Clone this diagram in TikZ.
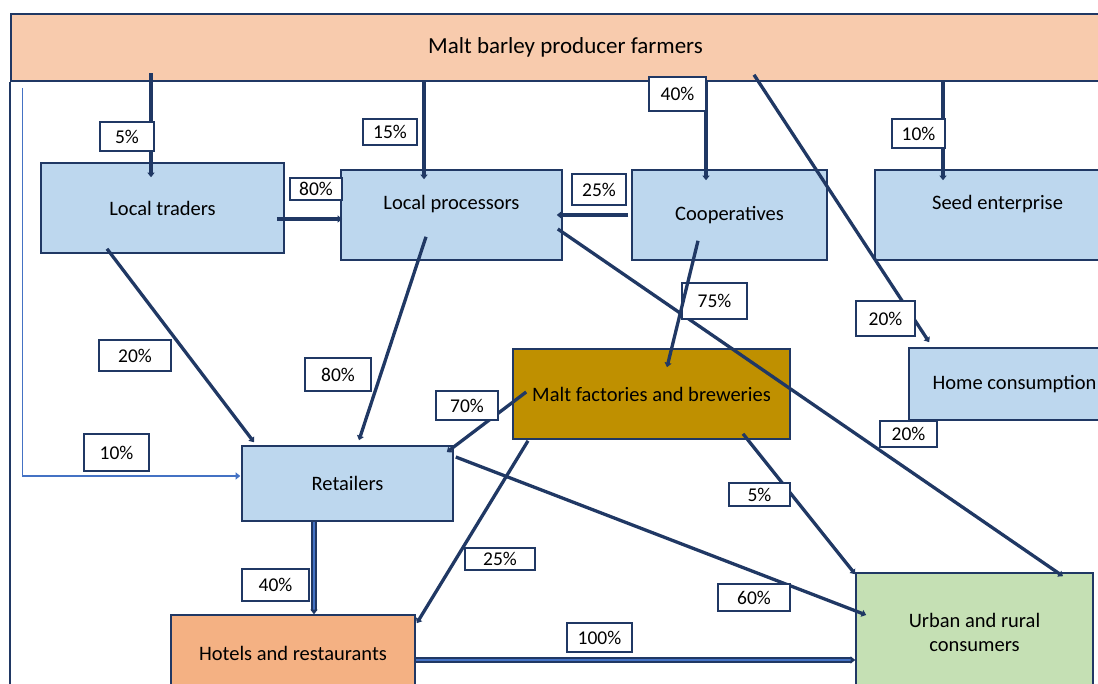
\documentclass[tikz,border=0pt]{standalone}
\usepackage{fontspec}
\setmainfont{Carlito}
\usepackage{tikz}
\usetikzlibrary{arrows.meta,calc}
\definecolor{navy}{HTML}{203864}
\definecolor{lineblue}{HTML}{4472C4}
\definecolor{farmfill}{HTML}{F8CBAD}
\definecolor{boxblue}{HTML}{BDD7EE}
\definecolor{maltfill}{HTML}{BF9000}
\definecolor{hotelfill}{HTML}{F4B183}
\definecolor{urbanfill}{HTML}{C5E0B4}

\begin{document}
\begin{tikzpicture}[x=1pt,y=-1pt,>={Triangle[length=4.5pt,width=7pt]},
    blk/.style={draw=navy,line width=1.6pt,inner sep=0pt,font=\fontsize{20.5}{24}\selectfont},
    pct/.style={draw=navy,fill=white,line width=1.5pt,inner sep=0pt,font=\fontsize{19.5}{22}\selectfont},
    flow/.style={->,draw=navy,line width=3.3pt},
    dflow/.style={->,draw=navy,line width=1.4pt,double=lineblue,double distance=2.4pt},
    link/.style={->,draw=lineblue,line width=1.4pt}]
        \useasboundingbox (0,0) rectangle (1098,684);
        \clip (0,0) rectangle (1098,684);
        \node[blk,fill=farmfill,minimum width=1109pt,minimum height=67pt,font=\fontsize{23}{26}\selectfont] (farm) at (565.5,47.5) {Malt barley producer farmers};
        \draw[navy,line width=1.6pt] (farm.south west) -- ++(0,620);
        \node[blk,fill=boxblue,minimum width=243pt,minimum height=90pt] (lt) at (162.5,208) {Local traders};
        \node[blk,fill=boxblue,minimum width=221pt,minimum height=90pt] (lp) at (451.5,215) {\raisebox{26pt}{Local processors}};
        \node[blk,fill=boxblue,minimum width=195pt,minimum height=90pt] (co) at (729.5,215) {Cooperatives};
        \node[blk,fill=boxblue,minimum width=245pt,minimum height=90pt] (se) at (997.5,215) {\raisebox{26pt}{Seed enterprise}};
        \node[blk,fill=boxblue,minimum width=211pt,minimum height=72pt] (hc) at (1014.5,384) {Home consumption};
        \node[blk,fill=maltfill,minimum width=277pt,minimum height=90pt] (mf) at (651.5,394) {Malt factories and breweries};
        \node[blk,fill=boxblue,minimum width=211pt,minimum height=75pt] (rt) at (347.5,483.5) {Retailers};
        \node[blk,fill=hotelfill,minimum width=244pt,minimum height=77pt] (hr) at (293,653.5) {Hotels and restaurants};
        \node[blk,fill=urbanfill,minimum width=237pt,minimum height=119pt,align=center] (ur) at (974.5,632.5) {Urban and rural\\consumers};

        \draw[flow] ($(lt.north)+(-11.5,-89)$) -- ($(lt.north)+(-11.5,15)$);
        \draw[flow] ($(lp.north)+(-27.5,-89)$) -- ($(lp.north)+(-27.5,10)$);
        \draw[flow] ($(co.north)+(-23.5,-89)$) -- ($(co.north)+(-23.5,11)$);
        \draw[flow] ($(se.north)+(-54.5,-89)$) -- ($(se.north)+(-54.5,11)$);
        \draw[flow] ($(farm.south)+(188.5,-7)$) -- ($(hc.north west)+(21,-5)$);
        \draw[flow] ($(lt.east)+(-8,11)$) -- ($(lp.west)+(2,4)$);
        \draw[flow] ($(co.west)+(-3,0)$) -- ($(lp.east)+(-6,0)$);
        \draw[flow] ($(lt.south)+(-55.5,-5)$) -- ($(rt.north)+(-93.5,-3)$);
        \draw[flow] ($(lp.south)+(-25.5,-24)$) -- ($(rt.north)+(11.5,-5)$);
        \draw[flow] ($(mf.west)+(14,-2)$) -- ($(rt.north east)+(-7,7)$);
        \draw[flow] ($(lp.east)+(-5,14)$) -- ($(ur.north)+(88.5,4)$);
        \draw[flow] ($(mf.south)+(91.5,-6)$) -- ($(ur.north west)+(0,2)$);
        \draw[flow] ($(rt.east)+(2,-26.5)$) -- ($(ur.west)+(11,-17.5)$);
        \draw[flow] ($(mf.south)+(-123.5,1)$) -- ($(hr.north east)+(1,9)$);
        \draw[dflow] ($(rt.south)+(-33.5,0)$) -- ($(hr.north)+(21,0)$);
        \draw[dflow] ($(hr.east)+(0,6.5)$) -- ($(ur.west)+(0,27.5)$);
        \draw[link] ($(farm.south west)+(12,6)$) |- ($(rt.west)+(-1,-7.5)$);

        \node[pct,minimum width=54pt,minimum height=29pt] (p5a) at (127,136.5) {5\%};
        \node[pct,minimum width=54pt,minimum height=26pt] (p15) at (390,132) {15\%};
        \node[pct,minimum width=57pt,minimum height=34pt] (p40a) at (677.5,94) {40\%};
        \node[pct,minimum width=53pt,minimum height=29pt] (p10a) at (918.5,133.5) {10\%};
        \node[pct,minimum width=52pt,minimum height=22pt] (p80a) at (316,189) {80\%};
        \node[pct,minimum width=54pt,minimum height=31pt] (p25a) at (599,189.5) {25\%};
        \node[pct,minimum width=72pt,minimum height=31pt] (p20a) at (135,355.5) {20\%};
        \node[pct,minimum width=66pt,minimum height=33pt] (p80b) at (338,374.5) {80\%};
        \node[pct,minimum width=65pt,minimum height=36pt] (p75) at (714.5,301) {75\%};
        \node[pct,minimum width=62pt,minimum height=29pt] (p70) at (467,405.5) {70\%};
        \node[pct,minimum width=59pt,minimum height=35pt] (p20b) at (885.5,318.5) {20\%};
        \node[pct,minimum width=57pt,minimum height=26pt] (p20c) at (908.5,434) {20\%};
        \node[pct,minimum width=65pt,minimum height=37pt] (p10b) at (116.5,452.5) {10\%};
        \node[pct,minimum width=70pt,minimum height=22pt] (p25b) at (500,559) {25\%};
        \node[pct,minimum width=61pt,minimum height=23pt] (p5b) at (759.5,494.5) {5\%};
        \node[pct,minimum width=67pt,minimum height=32pt] (p40b) at (275.5,585) {40\%};
        \node[pct,minimum width=72pt,minimum height=27pt] (p60) at (754,597.5) {60\%};
        \node[pct,minimum width=65pt,minimum height=29pt] (p100) at (599.5,637.5) {100\%};

        \draw[flow] ($(co.south)+(-31.5,-20)$) -- ($(mf.north)+(15.5,19)$);
    \end{tikzpicture}
\end{document}
